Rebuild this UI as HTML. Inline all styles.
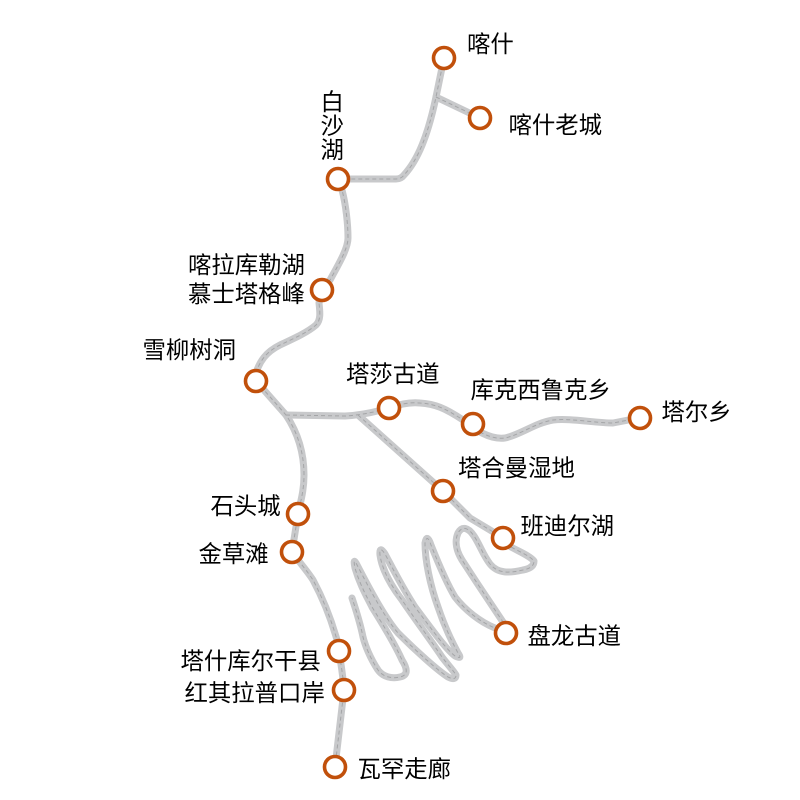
<!DOCTYPE html>
<html>
<head>
<meta charset="utf-8">
<style>
html,body{margin:0;padding:0;background:#fff;}
svg{display:block;}
text{font-family:"Liberation Sans","Noto Sans CJK SC",sans-serif;font-size:23.4px;fill:#000;}
.b{fill:none;stroke:#c8c9cb;stroke-width:7;stroke-linejoin:round;stroke-linecap:round;}
.d{fill:none;stroke:#a4a5a7;stroke-width:1;stroke-dasharray:4 3;}
circle{fill:#fff;stroke:#c1500b;stroke-width:3.6;}
</style>
</head>
<body>
<svg width="800" height="800" viewBox="0 0 800 800" xmlns="http://www.w3.org/2000/svg">
<defs>
<path id="p1" d="M444 58 L436 97 C428 135 418 160 404 175 Q401 179 396 179 L338 179"/>
<path id="p2" d="M436 97 L480 118"/>
<path id="p3" d="M338 179 L342 190 C346 205 348 225 348 238 C348 248 340 262 330 280 L322 290 L319 303 C320 312 321 320 316 325 C308 332 295 338 280 345 C268 351 258 360 254 381"/>
<path id="p4" d="M256 381 L286 415 C296 430 304 450 304 475 C304 490 301 500 298 514 L292 552 C300 563 308 572 313 580 C320 593 330 615 337 640 L339 651 C341 665 343 675 344 690 L335 767"/>
<path id="p5" d="M286 415 L345 416 Q365 415 389 408 C400 404 410 402 420 403 C435 404 445 408 463 420 C475 430 490 440 505 438 C520 435 535 423 553 420 C570 418 595 423 613 423 L639 418"/>
<path id="p6" d="M358 415 L443 491 L470 518 L490 530 L503 538 L511 547 C520 552 530 556 534 561 Q534 568 523 570 C510 573 498 574 490 564 C483 555 480 545 474 536 C468 527 462 526 458 533 C454 542 457 552 462 560 L477 583 L503 622"/>
<path id="p7" d="M506 633 L495 628 C480 622 465 610 455 597 C447 584 437 560 431 545 Q427 533 425 543 C425 560 430 585 438 607 C444 625 452 642 458 653 Q463 660 455 656 C447 650 435 634 415 607 C402 587 392 567 385 554 Q379 545 380 555 C382 570 392 587 402 600 C417 622 432 642 442 657 C448 665 453 670 456 675 Q456 681 448 677 C437 670 415 650 398 633 C385 618 370 590 356 563 Q353 558 355 568 C360 585 367 597 372 607 C380 620 394 642 402 660 C407 668 409 675 400 677 C392 679 383 677 378 670 C370 658 365 645 363 637 C360 622 356 610 352 598"/>
</defs>
<use href="#p1" class="b"/><use href="#p2" class="b"/><use href="#p3" class="b"/><use href="#p4" class="b"/><use href="#p5" class="b"/><use href="#p6" class="b"/><use href="#p7" class="b"/>
<use href="#p1" class="d"/><use href="#p2" class="d"/><use href="#p3" class="d"/><use href="#p4" class="d"/><use href="#p5" class="d"/><use href="#p6" class="d"/><use href="#p7" class="d"/>

<circle cx="444" cy="58" r="10.5"/>
<circle cx="480" cy="118" r="10.5"/>
<circle cx="338" cy="179" r="10.5"/>
<circle cx="322" cy="290" r="10.5"/>
<circle cx="256" cy="381" r="10.5"/>
<circle cx="389" cy="408" r="10.5"/>
<circle cx="473" cy="424" r="10.5"/>
<circle cx="640" cy="418" r="10.5"/>
<circle cx="443" cy="491" r="10.5"/>
<circle cx="503" cy="538" r="10.5"/>
<circle cx="298" cy="514" r="10.5"/>
<circle cx="292" cy="552" r="10.5"/>
<circle cx="506" cy="633" r="10.5"/>
<circle cx="339" cy="651" r="10.5"/>
<circle cx="344" cy="690" r="10.5"/>
<circle cx="335" cy="767" r="10.5"/>

<text x="467" y="52">喀什</text>
<text x="508.5" y="133">喀什老城</text>
<text x="320.5" y="110">白</text>
<text x="320.5" y="134">沙</text>
<text x="320.5" y="158">湖</text>
<text x="188" y="273">喀拉库勒湖</text>
<text x="188" y="302">慕士塔格峰</text>
<text x="142.5" y="358">雪柳树洞</text>
<text x="346" y="382">塔莎古道</text>
<text x="470.5" y="398">库克西鲁克乡</text>
<text x="661.5" y="420">塔尔乡</text>
<text x="458" y="476">塔合曼湿地</text>
<text x="520.5" y="534">班迪尔湖</text>
<text x="210.5" y="514">石头城</text>
<text x="198.5" y="562">金草滩</text>
<text x="527.5" y="644">盘龙古道</text>
<text x="180.5" y="669">塔什库尔干县</text>
<text x="184.5" y="701">红其拉普口岸</text>
<text x="357.5" y="777">瓦罕走廊</text>
</svg>
</body>
</html>
